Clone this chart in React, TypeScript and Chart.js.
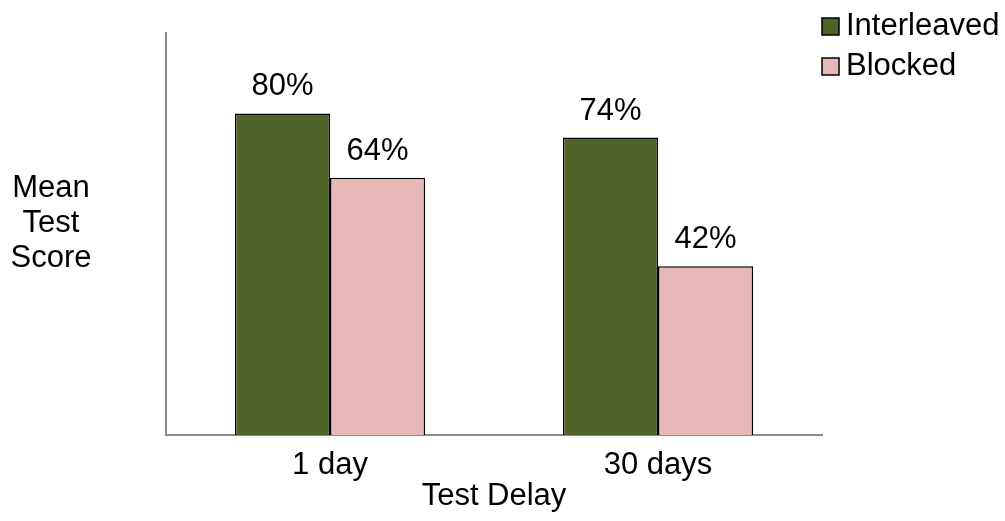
import React, { useEffect, useRef } from "react";
import { Chart, registerables } from "chart.js";

Chart.register(...registerables);

const categories = ["1 day", "30 days"];
const interleaved = [80, 74];
const blocked = [64, 42];
const seriesNames = ["Interleaved", "Blocked"];
const yTitleLines = ["Mean", "Test", "Score"];
const xTitle = "Test Delay";

const FONT = "'Liberation Sans', Arial, sans-serif";
const FS = 31;
const GREEN = "#4f6228";
const PINK = "#e6b9b8";

const labelsPlugin = {
  id: "customText",
  afterDatasetsDraw(chart: any) {
    const ctx = chart.ctx;
    ctx.save();
    ctx.fillStyle = "#000";
    ctx.font = `${FS}px ${FONT}`;
    ctx.textAlign = "center";
    ctx.textBaseline = "alphabetic";
    chart.data.datasets.forEach((ds: any, i: number) => {
      const meta = chart.getDatasetMeta(i);
      meta.data.forEach((bar: any, j: number) => {
        ctx.fillText(`${ds.data[j]}%`, bar.x, bar.y - 18);
      });
    });
    // y-axis title (horizontal, multi-line)
    yTitleLines.forEach((line, k) => {
      ctx.fillText(line, 51, 197 + k * 35);
    });
    // legend
    ctx.textAlign = "left";
    chart.data.datasets.forEach((ds: any, i: number) => {
      const y = 18 + i * 40;
      ctx.fillStyle = ds.backgroundColor;
      ctx.fillRect(822, y, 17, 17);
      ctx.strokeStyle = "#000";
      ctx.lineWidth = 1.5;
      ctx.strokeRect(822, y, 17, 17);
      ctx.fillStyle = "#000";
      ctx.fillText(ds.label, 846, y + 17);
    });
    ctx.restore();
  },
};

export default function App() {
  const ref = useRef<HTMLCanvasElement>(null);
  useEffect(() => {
    document.body.style.margin = "0";
    const chart = new Chart(ref.current as HTMLCanvasElement, {
      type: "bar",
      data: {
        labels: categories,
        datasets: [
          {
            label: seriesNames[0],
            data: interleaved,
            backgroundColor: GREEN,
            borderColor: "#000",
            borderWidth: 1.5,
            categoryPercentage: 0.58,
            barPercentage: 1,
          },
          {
            label: seriesNames[1],
            data: blocked,
            backgroundColor: PINK,
            borderColor: "#000",
            borderWidth: 1.5,
            categoryPercentage: 0.58,
            barPercentage: 1,
          },
        ],
      },
      options: {
        animation: false,
        responsive: false,
        devicePixelRatio: 1,
        layout: { padding: { top: 33, right: 183, left: 0, bottom: 0 } },
        plugins: { legend: { display: false }, tooltip: { enabled: false } },
        scales: {
          x: {
            grid: { display: false, drawTicks: false },
            border: { display: true, color: "#8c8c8c", width: 2 },
            ticks: {
              color: "#000",
              font: { size: FS, family: FONT },
              padding: 12,
            },
            title: {
              display: true,
              text: xTitle,
              color: "#000",
              font: { size: FS, family: FONT },
              padding: { top: 0, bottom: 6 },
            },
            afterFit: (s: any) => {
              s.height = 86;
            },
          },
          y: {
            min: 0,
            max: 100,
            grid: { display: false, drawTicks: false },
            border: { display: true, color: "#8c8c8c", width: 2 },
            ticks: { display: false },
            afterFit: (s: any) => {
              s.width = 166;
            },
          },
        },
      },
      plugins: [labelsPlugin],
    });
    return () => chart.destroy();
  }, []);
  return (
    <div style={{ position: "absolute", left: 0, top: 0, width: 1005, height: 521, background: "#fff" }}>
      <canvas ref={ref} width={1005} height={521} style={{ width: 1005, height: 521 }} />
    </div>
  );
}
